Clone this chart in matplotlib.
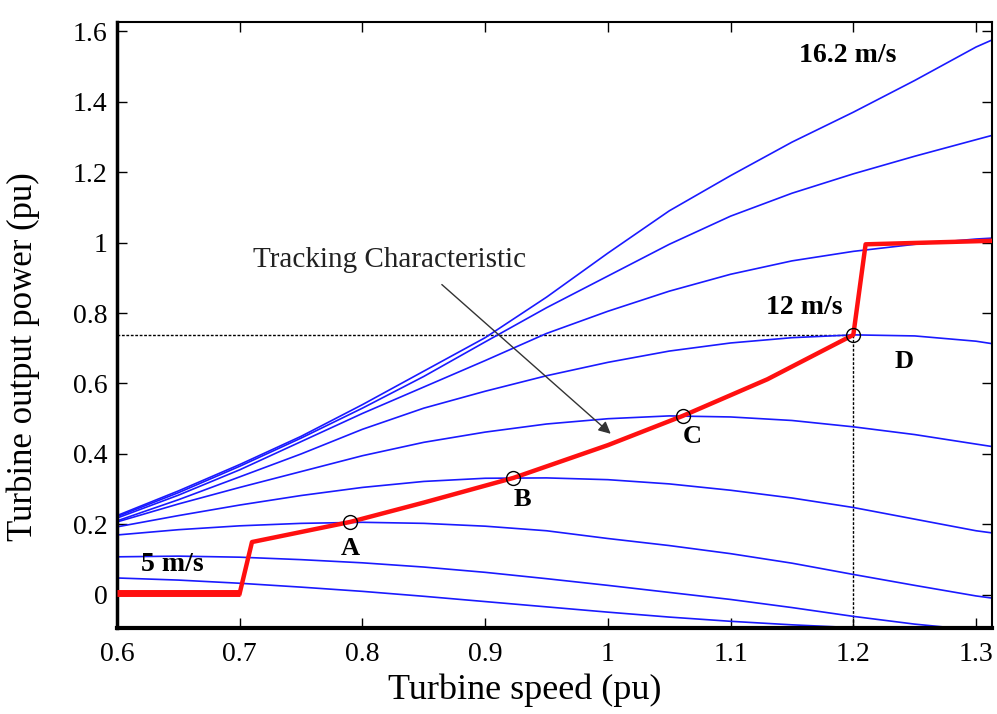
import matplotlib
matplotlib.use('Agg')
import matplotlib.pyplot as plt

plt.rcParams['font.family'] = ['Liberation Serif', 'DejaVu Serif']

# turbine speed (pu) where the curves were read
speed = [0.6, 0.65, 0.7, 0.75, 0.8, 0.85, 0.9, 0.95, 1.0, 1.05, 1.1, 1.15, 1.2, 1.25, 1.3, 1.315]

# power curves for each wind speed (pu)
p_5_0 = [0.048, 0.042, 0.033, 0.022, 0.010, -0.004, -0.019, -0.034, -0.049, -0.063, -0.075, -0.085, -0.093, -0.102, -0.110, -0.113]
p_6_4 = [0.108, 0.110, 0.107, 0.100, 0.091, 0.079, 0.064, 0.046, 0.027, 0.007, -0.013, -0.036, -0.061, -0.083, -0.100, -0.105]
p_7_8 = [0.170, 0.185, 0.196, 0.203, 0.206, 0.203, 0.195, 0.182, 0.160, 0.140, 0.117, 0.090, 0.058, 0.027, -0.003, -0.010]
p_9_2 = [0.193, 0.225, 0.255, 0.282, 0.305, 0.322, 0.331, 0.332, 0.327, 0.315, 0.297, 0.275, 0.248, 0.215, 0.182, 0.175]
p_10_6 = [0.207, 0.258, 0.305, 0.350, 0.395, 0.433, 0.462, 0.485, 0.500, 0.508, 0.505, 0.495, 0.477, 0.455, 0.428, 0.420]
p_12_0 = [0.210, 0.270, 0.335, 0.400, 0.470, 0.530, 0.578, 0.622, 0.660, 0.692, 0.715, 0.730, 0.738, 0.735, 0.720, 0.712]
p_13_4 = [0.218, 0.283, 0.355, 0.435, 0.515, 0.590, 0.665, 0.742, 0.805, 0.862, 0.910, 0.948, 0.975, 0.995, 1.010, 1.013]
p_14_8 = [0.222, 0.290, 0.365, 0.445, 0.530, 0.620, 0.718, 0.815, 0.905, 0.995, 1.075, 1.140, 1.195, 1.245, 1.292, 1.306]
p_16_2 = [0.225, 0.295, 0.370, 0.450, 0.540, 0.635, 0.730, 0.845, 0.970, 1.090, 1.190, 1.285, 1.370, 1.460, 1.555, 1.578]
curves = [p_5_0, p_6_4, p_7_8, p_9_2, p_10_6, p_12_0, p_13_4, p_14_8, p_16_2]

# tracking characteristic
track_x = [0.6, 0.7, 0.71, 0.79, 0.85, 0.923, 1.0, 1.061, 1.13, 1.2, 1.21, 1.313]
track_y = [0.005, 0.005, 0.15, 0.207, 0.262, 0.332, 0.425, 0.508, 0.612, 0.738, 0.995, 1.005]

# maximum power points A-D
mpp_x = [0.79, 0.923, 1.061, 1.2]
mpp_y = [0.207, 0.332, 0.508, 0.738]
mpp_names = ['A', 'B', 'C', 'D']
name_pos = [(0.79, 0.133), (0.93, 0.27), (1.069, 0.449), (1.241, 0.662)]

fig = plt.figure(figsize=(9.97, 7.14), dpi=100)
ax = fig.add_axes([117/997, 1-628/714, 875/997, 606/714])

for c in curves:
    ax.plot(speed, c, color='#1a1aff', lw=1.2, zorder=2)

# rated point guide lines
ax.plot([0.6, 1.2], [0.738, 0.738], color='k', lw=1, ls=(0, (2, 1.2)), zorder=1)
ax.plot([1.2, 1.2], [0.738, -0.2], color='k', lw=1, ls=(0, (2, 1.2)), zorder=1)

ax.plot(track_x[:2], track_y[:2], color='#ff1010', lw=5, solid_capstyle='butt', zorder=3)
ax.plot(track_x[1:], track_y[1:], color='#ff1010', lw=3.2, zorder=3)
ax.plot(mpp_x, mpp_y, 'o', mfc='none', mec='k', ms=10, mew=1, zorder=4)

for n, (tx, ty) in zip(mpp_names, name_pos):
    ax.text(tx, ty, n, fontsize=19, fontweight='bold', ha='center', va='center')

ax.text(1.195, 1.53, '16.2 m/s', fontsize=20, fontweight='bold', ha='center', va='center')
ax.text(1.16, 0.815, '12 m/s', fontsize=20, fontweight='bold', ha='center', va='center')
ax.text(0.645, 0.085, '5 m/s', fontsize=20, fontweight='bold', ha='center', va='center')

ax.annotate('', xy=(1.004, 0.452), xytext=(0.863, 0.886),
            arrowprops=dict(arrowstyle='-|>', color='#333333', lw=1, mutation_scale=18))
ax.text(0.711, 0.951, 'Tracking Characteristic', fontsize=21, ha='left', va='center', color='#222222')

ax.set_xlim(0.6, 1.313)
ax.set_ylim(-0.094, 1.626)
ax.set_xticks([0.6, 0.7, 0.8, 0.9, 1.0, 1.1, 1.2, 1.3])
ax.set_xticklabels(['0.6', '0.7', '0.8', '0.9', '1', '1.1', '1.2', '1.3'])
ax.set_yticks([0, 0.2, 0.4, 0.6, 0.8, 1.0, 1.2, 1.4, 1.6])
ax.set_yticklabels(['0', '0.2', '0.4', '0.6', '0.8', '1', '1.2', '1.4', '1.6'])
ax.tick_params(direction='in', length=7, width=1, top=True, right=True, labelsize=20)
ax.tick_params(axis='x', pad=10)
ax.tick_params(axis='y', pad=7)

ax.spines['left'].set_linewidth(2.5)
ax.spines['bottom'].set_linewidth(3)
ax.spines['top'].set_linewidth(1.5)
ax.spines['right'].set_linewidth(1.5)

ax.set_xlabel('Turbine speed (pu)', fontsize=26)
ax.set_ylabel('Turbine output power (pu)', fontsize=25)
ax.xaxis.set_label_coords(0.466, -0.075)
ax.yaxis.set_label_coords(-0.088, 0.447)

fig.savefig('out.png', dpi=100)
